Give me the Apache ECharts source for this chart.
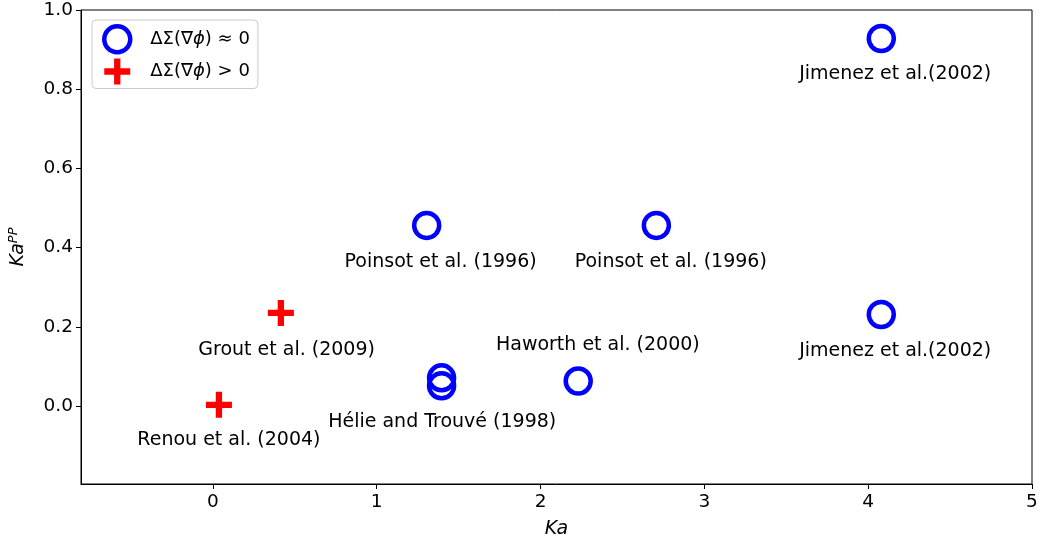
<!DOCTYPE html>
<html>
<head>
<meta charset="utf-8">
<script src="https://cdn.jsdelivr.net/npm/echarts@6/dist/echarts.min.js"></script>
<style>
  html, body { margin: 0; padding: 0; background: #fff; }
  #chart { width: 1038px; height: 540px; }
</style>
</head>
<body>
<div id="chart"></div>
<script>
// points where the flame surface change is about zero
const zeroKa = [4.08, 1.305, 2.707, 4.08, 2.23, 1.396, 1.396];
const zeroKaPP = [0.928, 0.456, 0.456, 0.231, 0.063, 0.071, 0.051];
// points where it is positive
const posKa = [0.415, 0.037];
const posKaPP = [0.235, 0.003];
// annotation texts and where they sit
const noteText = [
  'Jimenez et al.(2002)', 'Poinsot et al. (1996)', 'Poinsot et al. (1996)',
  'Grout et al. (2009)', 'Haworth et al. (2000)', 'Jimenez et al.(2002)',
  'Hélie and Trouvé (1998)', 'Renou et al. (2004)'
];
const noteKa = [4.165, 1.39, 2.795, 0.45, 2.35, 4.165, 1.40, 0.098];
const noteKaPP = [0.839, 0.364, 0.364, 0.142, 0.155, 0.138, -0.04, -0.087];
// tick labels
const xTicks = [0, 1, 2, 3, 4, 5];
const yTicks = [0, 0.2, 0.4, 0.6, 0.8, 1.0];

const font = 'DejaVu Sans';
const plusPath = 'path://M-1.7,-7 L1.7,-7 L1.7,-1.7 L7,-1.7 L7,1.7 L1.7,1.7 L1.7,7 L-1.7,7 L-1.7,1.7 L-7,1.7 L-7,-1.7 L-1.7,-1.7 Z';

const legendRich = {
  a: { fontSize: 18, color: '#000', fontFamily: font },
  b: { fontSize: 18, color: '#000', fontFamily: font, fontStyle: 'italic' }
};

const chart = echarts.init(document.getElementById('chart'));
chart.setOption({
  animation: false,
  textStyle: { fontFamily: font },
  grid: {
    left: 81, right: 6, top: 10, bottom: 56,
    outerBoundsMode: 'none', containLabel: false,
    show: true, borderColor: '#000', borderWidth: 1
  },
  legend: {
    left: 92, top: 20, orient: 'vertical',
    backgroundColor: '#fff', borderColor: '#ccc', borderWidth: 1, borderRadius: 4,
    padding: [4, 8, 4, 10], itemGap: 4, itemWidth: 28, itemHeight: 26,
    textStyle: { fontSize: 18, color: '#000', fontFamily: font, padding: [0, 0, 0, 14], rich: legendRich },
    formatter: name => name === 'zero'
      ? '{a|ΔΣ(∇}{b|ϕ}{a|) ≈ 0}'
      : '{a|ΔΣ(∇}{b|ϕ}{a|) > 0}',
    data: [
      { name: 'zero', itemStyle: { borderWidth: 4.5, borderColor: '#0000ff', color: 'rgba(0,0,0,0)' } },
      { name: 'pos' }
    ]
  },
  xAxis: {
    type: 'value', min: -0.805, max: 5,
    name: 'Ka', nameLocation: 'middle', nameGap: 36,
    nameTextStyle: { fontSize: 19, fontStyle: 'italic', color: '#000' },
    splitLine: { show: false },
    axisLine: { show: true, onZero: false, lineStyle: { color: '#000' } },
    axisTick: { show: true, length: 5, customValues: xTicks, lineStyle: { color: '#000' } },
    axisLabel: { customValues: xTicks, fontSize: 18.5, color: '#000', margin: 9 }
  },
  yAxis: {
    type: 'value', min: -0.197, max: 1.0,
    name: '{i|Ka}{s|PP}', nameLocation: 'middle', nameGap: 52, nameRotate: 90,
    nameTextStyle: {
      rich: {
        i: { fontSize: 19, fontStyle: 'italic', color: '#000', fontFamily: font },
        s: { fontSize: 13, fontStyle: 'italic', color: '#000', fontFamily: font, verticalAlign: 'top', padding: [0, 0, 9, 0] }
      }
    },
    splitLine: { show: false },
    axisLine: { show: true, onZero: false, lineStyle: { color: '#000' } },
    axisTick: { show: true, length: 5, customValues: yTicks, lineStyle: { color: '#000' } },
    axisLabel: {
      customValues: yTicks, fontSize: 18.5, color: '#000', margin: 8,
      formatter: v => v.toFixed(1)
    }
  },
  series: [
    {
      name: 'zero',
      type: 'scatter',
      symbol: 'circle', symbolSize: 25,
      itemStyle: { color: 'rgba(0,0,0,0)', borderColor: '#0000ff', borderWidth: 4.5, opacity: 1 },
      data: zeroKa.map((x, i) => [x, zeroKaPP[i]]),
      z: 3
    },
    {
      name: 'pos',
      type: 'scatter',
      symbol: plusPath, symbolSize: 26,
      itemStyle: { color: '#ff0000', opacity: 1 },
      data: posKa.map((x, i) => [x, posKaPP[i]]),
      z: 3
    },
    {
      name: 'notes',
      type: 'scatter',
      symbolSize: 0,
      silent: true,
      itemStyle: { opacity: 1 },
      label: {
        show: true, position: 'inside', color: '#000', fontSize: 19, fontFamily: font,
        formatter: p => noteText[p.dataIndex]
      },
      data: noteKa.map((x, i) => [x, noteKaPP[i]]),
      z: 4
    }
  ]
});
</script>
</body>
</html>
